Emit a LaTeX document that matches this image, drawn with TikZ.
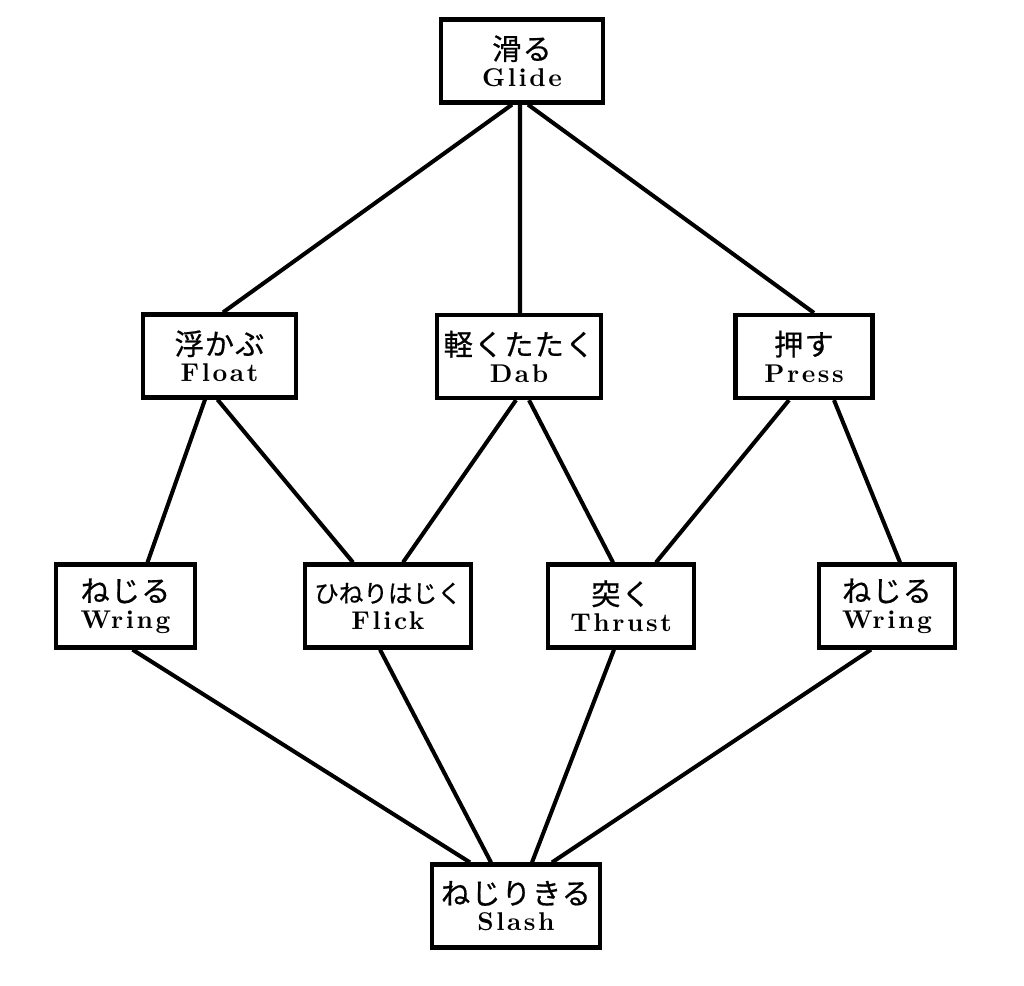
\documentclass[tikz,border=0pt]{standalone}
\usepackage{fontspec}
\newfontfamily\jpfont[LetterSpace=4, FakeBold=0.6]{Noto Sans CJK JP}
\newfontfamily\jptight[FakeBold=0.6]{Noto Sans CJK JP}
\newfontfamily\enfont[LetterSpace=10]{lmroman10-bold.otf}
\usepackage{tikz}
\usetikzlibrary{calc}

\newcommand{\wordLabel}[2]{{\jpfont #1}\\{\enfont\fontsize{7.3}{7.6}\selectfont #2}}

\begin{document}
\begin{tikzpicture}[
  x=0.1mm, y=-0.1mm,
  every node/.style={font=\fontsize{8.3}{7.6}\selectfont},
  box/.style={draw, line width=1.2pt, align=center, minimum height=8.3mm, inner sep=2pt},
  link/.style={line width=1.15pt}
]
\useasboundingbox (0,0) rectangle (1024,985);

\node[box, minimum width=16.2mm] (glide) at (522,61) {\wordLabel{滑る}{Glide}};
\node[box, minimum width=15.3mm] (float) at (219.5,356) {\wordLabel{浮かぶ}{Float}};
\node[box, minimum width=16.2mm] (dab) at (519,356.5) {\wordLabel{軽くたたく}{Dab}};
\node[box, minimum width=13.7mm] (press) at (804,356.5) {\wordLabel{押す}{Press}};
\node[box, minimum width=13.9mm] (wringL) at (125.5,606) {\wordLabel{ねじる}{Wring}};
\node[box, minimum width=16.6mm] (flick) at (388,606) {{\jptight\fontsize{7}{7.6}\selectfont ひねりはじく}\\{\enfont\fontsize{7.3}{7.6}\selectfont Flick}};
\node[box, minimum width=14.6mm] (thrust) at (621,606) {\wordLabel{突く}{Thrust}};
\node[box, minimum width=13.6mm] (wringR) at (887,606) {\wordLabel{ねじる}{Wring}};
\node[box, minimum width=16.8mm] (slash) at (516,906) {\wordLabel{ねじりきる}{Slash}};

\draw[link] ([xshift=-1.0mm]glide.south) -- ([xshift=0.35mm]float.north);
\draw[link] ([xshift=-0.2mm]glide.south) -- ([xshift=0.1mm]dab.north);
\draw[link] ([xshift=0.6mm]glide.south) -- ([xshift=1.0mm]press.north);
\draw[link] ([xshift=-1.45mm]float.south) -- ([xshift=2.2mm]wringL.north);
\draw[link] ([xshift=-0.2mm]float.south) -- ([xshift=-3.5mm]flick.north);
\draw[link] ([xshift=-0.3mm]dab.south) -- ([xshift=1.5mm]flick.north);
\draw[link] ([xshift=1.0mm]dab.south) -- ([xshift=-0.8mm]thrust.north);
\draw[link] ([xshift=-1.5mm]press.south) -- ([xshift=3.5mm]thrust.north);
\draw[link] ([xshift=3.0mm]press.south) -- ([xshift=1.3mm]wringR.north);
\draw[link] ([xshift=0.7mm]wringL.south) -- ([xshift=-4.6mm]slash.north);
\draw[link] ([xshift=-0.8mm]flick.south) -- ([xshift=-2.5mm]slash.north);
\draw[link] ([xshift=-0.7mm]thrust.south) -- ([xshift=1.6mm]slash.north);
\draw[link] ([xshift=-1.6mm]wringR.south) -- ([xshift=3.6mm]slash.north);
\end{tikzpicture}
\end{document}
